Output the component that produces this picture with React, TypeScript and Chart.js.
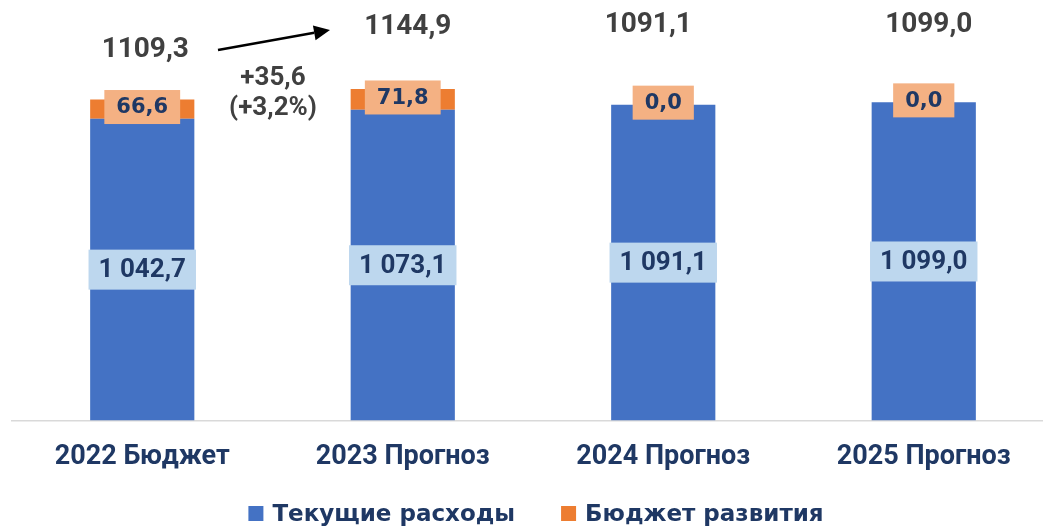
import React, { useEffect, useRef } from 'react';
import { Chart, registerables } from 'chart.js';

Chart.register(...registerables);

// ---- data ----
const categories = ['2022 Бюджет', '2023 Прогноз', '2024 Прогноз', '2025 Прогноз'];
const seriesNames = ['Текущие расходы', 'Бюджет развития'];
const currentExpenses = [1042.7, 1073.1, 1091.1, 1099.0];
const developmentBudget = [66.6, 71.8, 0.0, 0.0];

// ---- styles ----
const BLUE = '#4472c4';
const ORANGE = '#ed7d31';
const LBLUE = '#bdd7ee';
const PEACH = '#f4b183';
const NAVY = '#1f3864';
const GRAY = '#404040';

function fmt(v: number, group = false): string {
  const s = v.toFixed(1);
  let [i, d] = s.split('.');
  if (group) i = i.replace(/\B(?=(\d{3})+(?!\d))/g, ' ');
  return i + ',' + d;
}

function boxLabel(ctx: CanvasRenderingContext2D, text: string, x: number, cy: number, bg: string, font: string, padX: number, h: number) {
  ctx.font = font;
  const w = ctx.measureText(text).width + padX * 2;
  ctx.fillStyle = bg;
  ctx.fillRect(x - w / 2, cy - h / 2, w, h);
  ctx.fillStyle = NAVY;
  ctx.textAlign = 'center';
  ctx.textBaseline = 'middle';
  ctx.fillText(text, x, cy + 1);
}

const annotate = {
  id: 'annotate',
  afterDatasetsDraw(chart: any) {
    const ctx: CanvasRenderingContext2D = chart.ctx;
    const m0 = chart.getDatasetMeta(0);
    const m1 = chart.getDatasetMeta(1);
    const xs = chart.scales.x;
    ctx.save();
    m0.data.forEach((el: any, i: number) => {
      const { x, y, base } = el.getProps(['x', 'y', 'base'], true);
      boxLabel(ctx, fmt(currentExpenses[i], true), x, (y + base) / 2, LBLUE, '700 26px Roboto', 10, 40);
    });
    m1.data.forEach((el: any, i: number) => {
      const { x, y, base } = el.getProps(['x', 'y', 'base'], true);
      boxLabel(ctx, fmt(developmentBudget[i]), x, (y + base) / 2 - 2, PEACH, '700 21px "DejaVu Sans"', 12, 34);
    });

    // totals
    const totals = currentExpenses.map((v, i) => v + developmentBudget[i]);
    const dx = [3, 5, -15, 5];
    const ty = [48, 25, 23, 23];
    ctx.fillStyle = GRAY;
    ctx.font = '700 28px Roboto';
    ctx.textAlign = 'center';
    ctx.textBaseline = 'middle';
    totals.forEach((t, i) => {
      ctx.fillText(fmt(t), xs.getPixelForValue(i) + dx[i], ty[i] + 2);
    });

    // change annotation
    const diff = totals[1] - totals[0];
    const pct = (diff / totals[0]) * 100;
    ctx.font = '700 26px Roboto';
    ctx.fillText('+' + fmt(diff), 273, 78);
    ctx.fillText('(+' + fmt(pct) + '%)', 273, 108);

    // arrow
    const x1 = 218, y1 = 50, x2 = 330, y2 = 30;
    const ang = Math.atan2(y2 - y1, x2 - x1);
    const hl = 16, hw = 7.5;
    ctx.strokeStyle = '#000';
    ctx.lineWidth = 2.5;
    ctx.beginPath();
    ctx.moveTo(x1, y1);
    ctx.lineTo(x2 - Math.cos(ang) * hl, y2 - Math.sin(ang) * hl);
    ctx.stroke();
    ctx.fillStyle = '#000';
    ctx.beginPath();
    ctx.moveTo(x2, y2);
    ctx.lineTo(x2 - Math.cos(ang) * hl + Math.sin(ang) * hw, y2 - Math.sin(ang) * hl - Math.cos(ang) * hw);
    ctx.lineTo(x2 - Math.cos(ang) * hl - Math.sin(ang) * hw, y2 - Math.sin(ang) * hl + Math.cos(ang) * hw);
    ctx.closePath();
    ctx.fill();

    ctx.restore();
  },
  afterDraw(chart: any) {
    // legend
    const ctx: CanvasRenderingContext2D = chart.ctx;
    ctx.save();
    ctx.font = '700 23px "DejaVu Sans"';
    const box = 15, gapText = 9, gapItem = 46;
    const colors = [BLUE, ORANGE];
    const widths = seriesNames.map((n) => ctx.measureText(n).width);
    const total = widths.reduce((a, w) => a + box + gapText + w, 0) + gapItem * (seriesNames.length - 1);
    let x = 536 - total / 2;
    const baseY = 521;
    seriesNames.forEach((n, i) => {
      ctx.fillStyle = colors[i];
      ctx.fillRect(x, baseY - box, box, box);
      x += box + gapText;
      ctx.fillStyle = NAVY;
      ctx.textAlign = 'left';
      ctx.textBaseline = 'alphabetic';
      ctx.fillText(n, x, baseY);
      x += widths[i] + gapItem;
    });
    ctx.restore();
  },
};

export default function App() {
  const ref = useRef<HTMLCanvasElement | null>(null);
  useEffect(() => {
    if (!ref.current) return;
    const chart = new Chart(ref.current, {
      type: 'bar',
      data: {
        labels: categories,
        datasets: [
          { label: seriesNames[0], data: currentExpenses, backgroundColor: BLUE, borderWidth: 0, categoryPercentage: 0.4, barPercentage: 1 },
          { label: seriesNames[1], data: developmentBudget, backgroundColor: ORANGE, borderWidth: 0, categoryPercentage: 0.4, barPercentage: 1 },
        ],
      },
      options: {
        animation: false,
        responsive: true,
        maintainAspectRatio: false,
        layout: { padding: { left: 12, right: 18, top: 21, bottom: 34 } },
        plugins: { legend: { display: false }, tooltip: { enabled: false } },
        scales: {
          x: {
            stacked: true,
            grid: { display: false, drawTicks: false },
            border: { display: true, color: '#d9d9d9', width: 1.5 },
            ticks: { color: NAVY, font: { family: 'Roboto', size: 27, weight: 'bold' }, padding: 20, maxRotation: 0, autoSkip: false },
          },
          y: { stacked: true, display: false, min: 0, max: 1380 },
        },
      },
      plugins: [annotate],
    });
    return () => chart.destroy();
  }, []);
  return (
    <div style={{ position: 'fixed', left: 0, top: 0, width: 1043, height: 527, overflow: 'hidden', background: '#fff' }}>
      <div style={{ position: 'relative', width: 1072, height: 527 }}>
        <canvas ref={ref} />
      </div>
    </div>
  );
}
